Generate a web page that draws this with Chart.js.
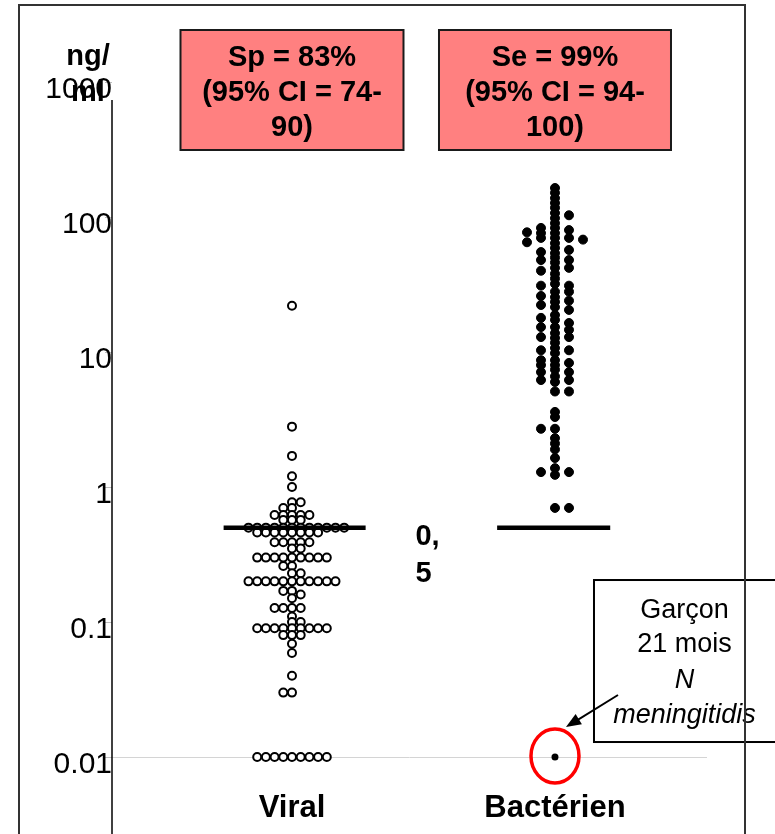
<!DOCTYPE html>
<html>
<head>
<meta charset="utf-8">
<script src="https://cdn.jsdelivr.net/npm/chart.js@4.4.1/dist/chart.umd.min.js"></script>
<style>
  html, body { margin: 0; padding: 0; background: #fff; overflow: hidden; }
  canvas { display: block; }
</style>
</head>
<body>
<canvas id="pctChart" width="775" height="834"></canvas>
<script>
// PCT (ng/ml) par groupe : infections virales vs bactériennes
const categories = ['Viral', 'Bactérien'];

const viralValues = [
  22, 2.8, 1.7, 1.2, 1.0, 0.77, 0.77, 0.7, 0.7,
  0.62, 0.62, 0.62, 0.62, 0.62, 0.57, 0.57, 0.57,
  0.5, 0.5, 0.5, 0.5, 0.5, 0.5, 0.5, 0.5, 0.5, 0.5, 0.5, 0.5,
  0.46, 0.46, 0.46, 0.46, 0.46, 0.46, 0.46, 0.46,
  0.39, 0.39, 0.39, 0.39, 0.39, 0.35, 0.35,
  0.3, 0.3, 0.3, 0.3, 0.3, 0.3, 0.3, 0.3, 0.3,
  0.26, 0.26, 0.23, 0.23,
  0.2, 0.2, 0.2, 0.2, 0.2, 0.2, 0.2, 0.2, 0.2, 0.2, 0.2,
  0.17, 0.17, 0.16, 0.15, 0.127, 0.127, 0.127, 0.127, 0.11, 0.1, 0.1,
  0.09, 0.09, 0.09, 0.09, 0.09, 0.09, 0.09, 0.09, 0.09,
  0.08, 0.08, 0.08, 0.069, 0.059, 0.04, 0.03, 0.03,
  0.01, 0.01, 0.01, 0.01, 0.01, 0.01, 0.01, 0.01, 0.01
];

const bacterialValues = [
  164, 151, 138, 127, 117, 107, 103, 98, 90, 83, 83, 80, 77, 76, 76,
  70, 70, 70, 68, 65, 64, 59, 57, 55, 54, 50, 48, 48, 46, 42, 42, 40,
  38, 35, 32, 31, 31, 28, 28, 26, 25.5, 24, 23.5, 22.3, 21.5, 20.5,
  18.8, 17.9, 17.3, 16.4, 15.3, 15.3, 14.6, 13.8, 12.9, 12.9, 12.7,
  11.7, 10.7, 10.3, 10.3, 9.8, 8.7, 8.7, 8.3, 8.0, 8.0, 7.4, 7.1, 7.1,
  6.6, 6.2, 6.2, 6.0, 5.1, 5.1, 3.6, 3.3, 2.7, 2.7, 2.3, 2.1, 1.9,
  1.64, 1.38, 1.29, 1.29, 1.23, 0.7, 0.7
];

// garçon 21 mois, N. meningitidis
const bacterialOutlier = [0.01];

const cutoff = 0.5;
const cutoffLabel = ['0,', '5'];
const yTicks = [0.01, 0.1, 1, 10, 100, 1000];
const yTitle = ['ng/', 'ml'];
const statBoxes = [
  ['Sp = 83%', '(95% CI = 74-', '90)'],
  ['Se = 99%', '(95% CI = 94-', '100)']
];
const caseNote = ['Garçon', '21 mois', 'N', 'meningitidis'];

const FONT = "'Liberation Sans', Arial, sans-serif";
Chart.defaults.font.family = FONT;
Chart.defaults.color = '#000';

// horizontal extent of each cutoff bar, in category units
const barSpan = [[-0.26, 0.28], [-0.22, 0.21]];
const boxWidths = [223, 232];

function cutoffBar(i) {
  const c = i + 1;
  return [{ x: c + barSpan[i][0], y: cutoff }, { x: c + barSpan[i][1], y: cutoff }];
}

// simple dot-plot layout: a dot goes in the centre column unless a dot
// already sits too close there, then it moves out left/right alternately
function swarm(chart, values, center, step, minGap) {
  const xs = chart.scales.x, ys = chart.scales.y;
  const cx = xs.getPixelForValue(center);
  const placed = [];
  let side = 1;
  return values.map(v => {
    const py = ys.getPixelForValue(v);
    const free = c => !placed.some(p => p.col === c && Math.abs(p.py - py) < minGap);
    let col = 0;
    if (!free(0)) {
      for (let k = 1; ; k++) {
        if (free(side * k)) { col = side * k; break; }
        if (free(-side * k)) { col = -side * k; break; }
      }
      side = -Math.sign(col);
    }
    placed.push({ col, py });
    return { x: xs.getValueForPixel(cx + col * step), y: v };
  });
}

const decorations = {
  id: 'decorations',
  afterDraw(chart) {
    const { ctx, chartArea, scales: { x, y } } = chart;
    ctx.save();

    // value axis line, runs on past the bottom of the plot
    ctx.strokeStyle = '#000';
    ctx.lineWidth = 1.5;
    ctx.beginPath();
    ctx.moveTo(chartArea.left, chartArea.top + 18);
    ctx.lineTo(chartArea.left, chart.height);
    ctx.stroke();

    ctx.fillStyle = '#000';
    ctx.textAlign = 'center';
    ctx.textBaseline = 'alphabetic';
    ctx.font = `bold 29px ${FONT}`;
    ctx.fillText(yTitle[0], 88, 65);
    ctx.fillText(yTitle[1], 88, 101);

    // specificity / sensitivity boxes
    statBoxes.forEach((lines, i) => {
      const cx = x.getPixelForValue(i + 1), w = boxWidths[i];
      ctx.fillStyle = '#ff8080';
      ctx.fillRect(cx - w / 2, 30, w, 120);
      ctx.strokeStyle = '#1a1a1a';
      ctx.lineWidth = 2;
      ctx.strokeRect(cx - w / 2, 30, w, 120);
      ctx.fillStyle = '#000';
      lines.forEach((t, j) => ctx.fillText(t, cx, 66 + j * 35));
    });

    // cutoff value
    const yc = y.getPixelForValue(cutoff);
    ctx.textAlign = 'left';
    ctx.fillText(cutoffLabel[0], x.getPixelForValue(1.5) - 8, yc + 17.5);
    ctx.fillText(cutoffLabel[1], x.getPixelForValue(1.5) - 8, yc + 54.5);

    // the one bacterial case below the cutoff
    const px = x.getPixelForValue(2), py = y.getPixelForValue(bacterialOutlier[0]);
    ctx.strokeStyle = '#ff0000';
    ctx.lineWidth = 3.5;
    ctx.beginPath();
    ctx.ellipse(px, py - 1, 24, 27, 0, 0, Math.PI * 2);
    ctx.stroke();

    const ax = px + 63, ay = py - 62, tx = px + 11, tyy = py - 30;
    const ang = Math.atan2(tyy - ay, tx - ax);
    ctx.strokeStyle = '#000';
    ctx.lineWidth = 2;
    ctx.beginPath();
    ctx.moveTo(ax, ay);
    ctx.lineTo(tx - 10 * Math.cos(ang), tyy - 10 * Math.sin(ang));
    ctx.stroke();
    ctx.beginPath();
    ctx.moveTo(tx, tyy);
    ctx.lineTo(tx - 15 * Math.cos(ang) + 6 * Math.sin(ang), tyy - 15 * Math.sin(ang) - 6 * Math.cos(ang));
    ctx.lineTo(tx - 15 * Math.cos(ang) - 6 * Math.sin(ang), tyy - 15 * Math.sin(ang) + 6 * Math.cos(ang));
    ctx.closePath();
    ctx.fillStyle = '#000';
    ctx.fill();

    ctx.lineWidth = 2;
    ctx.strokeRect(px + 39, py - 177, 250, 162);
    ctx.textAlign = 'center';
    const nx = px + 129.5;
    ctx.font = `27px ${FONT}`;
    ctx.fillText(caseNote[0], nx, py - 139);
    ctx.fillText(caseNote[1], nx, py - 105);
    ctx.font = `italic 27px ${FONT}`;
    ctx.fillText(caseNote[2], nx, py - 69);
    ctx.fillText(caseNote[3], nx, py - 34);

    // outer frame
    ctx.strokeStyle = '#333';
    ctx.lineWidth = 2;
    ctx.strokeRect(19, 5, 726, 900);
    ctx.restore();
  }
};

const chart = new Chart(document.getElementById('pctChart'), {
  type: 'scatter',
  data: {
    datasets: [
      { type: 'line', data: cutoffBar(0), borderColor: '#000', borderWidth: 4.5, pointRadius: 0, borderCapStyle: 'butt' },
      { type: 'line', data: cutoffBar(1), borderColor: '#000', borderWidth: 4.5, pointRadius: 0, borderCapStyle: 'butt' },
      { label: categories[0], data: [], pointRadius: 4, borderWidth: 2, borderColor: '#000', backgroundColor: '#fff' },
      { label: categories[1], data: [], pointRadius: 4.5, borderWidth: 1, borderColor: '#000', backgroundColor: '#000' },
      { label: 'N. meningitidis', data: bacterialOutlier.map(v => ({ x: 2, y: v })), pointRadius: 3.5, borderWidth: 0, backgroundColor: '#000' }
    ]
  },
  options: {
    responsive: false,
    animation: false,
    layout: { padding: { top: 82, right: 68, bottom: 0, left: 0 } },
    plugins: { legend: { display: false }, tooltip: { enabled: false } },
    scales: {
      x: {
        type: 'linear',
        min: 0.3156,
        max: 2.578,
        position: { y: 0.0066 },
        grid: { display: false },
        border: { display: false },
        afterBuildTicks: s => { s.ticks = categories.map((c, i) => ({ value: i + 1 })); },
        afterFit: s => { s.paddingLeft = 0; s.paddingRight = 0; },
        ticks: {
          padding: 0,
          font: { size: 31, weight: 'bold' },
          callback: v => categories[v - 1]
        }
      },
      y: {
        type: 'logarithmic',
        position: 'left',
        min: 0.00298,
        max: 1000,
        border: { display: false },
        grid: {
          color: c => (c.tick && c.tick.value === 0.01 ? '#d4d4d4' : 'transparent'),
          tickColor: '#bdbdbd',
          tickLength: 7
        },
        afterBuildTicks: s => { s.ticks = yTicks.map(v => ({ value: v })); },
        afterFit: s => { s.width = 112; s.paddingTop = 0; s.paddingBottom = 0; },
        ticks: {
          padding: -7,
          labelOffset: 8,
          font: { size: 30 },
          callback: v => String(v)
        }
      }
    }
  },
  plugins: [decorations]
});

chart.data.datasets[2].data = swarm(chart, viralValues, 1, 8.7, 4.5);
chart.data.datasets[3].data = swarm(chart, bacterialValues, 2, 14, 4.5);
chart.update();
</script>
</body>
</html>
